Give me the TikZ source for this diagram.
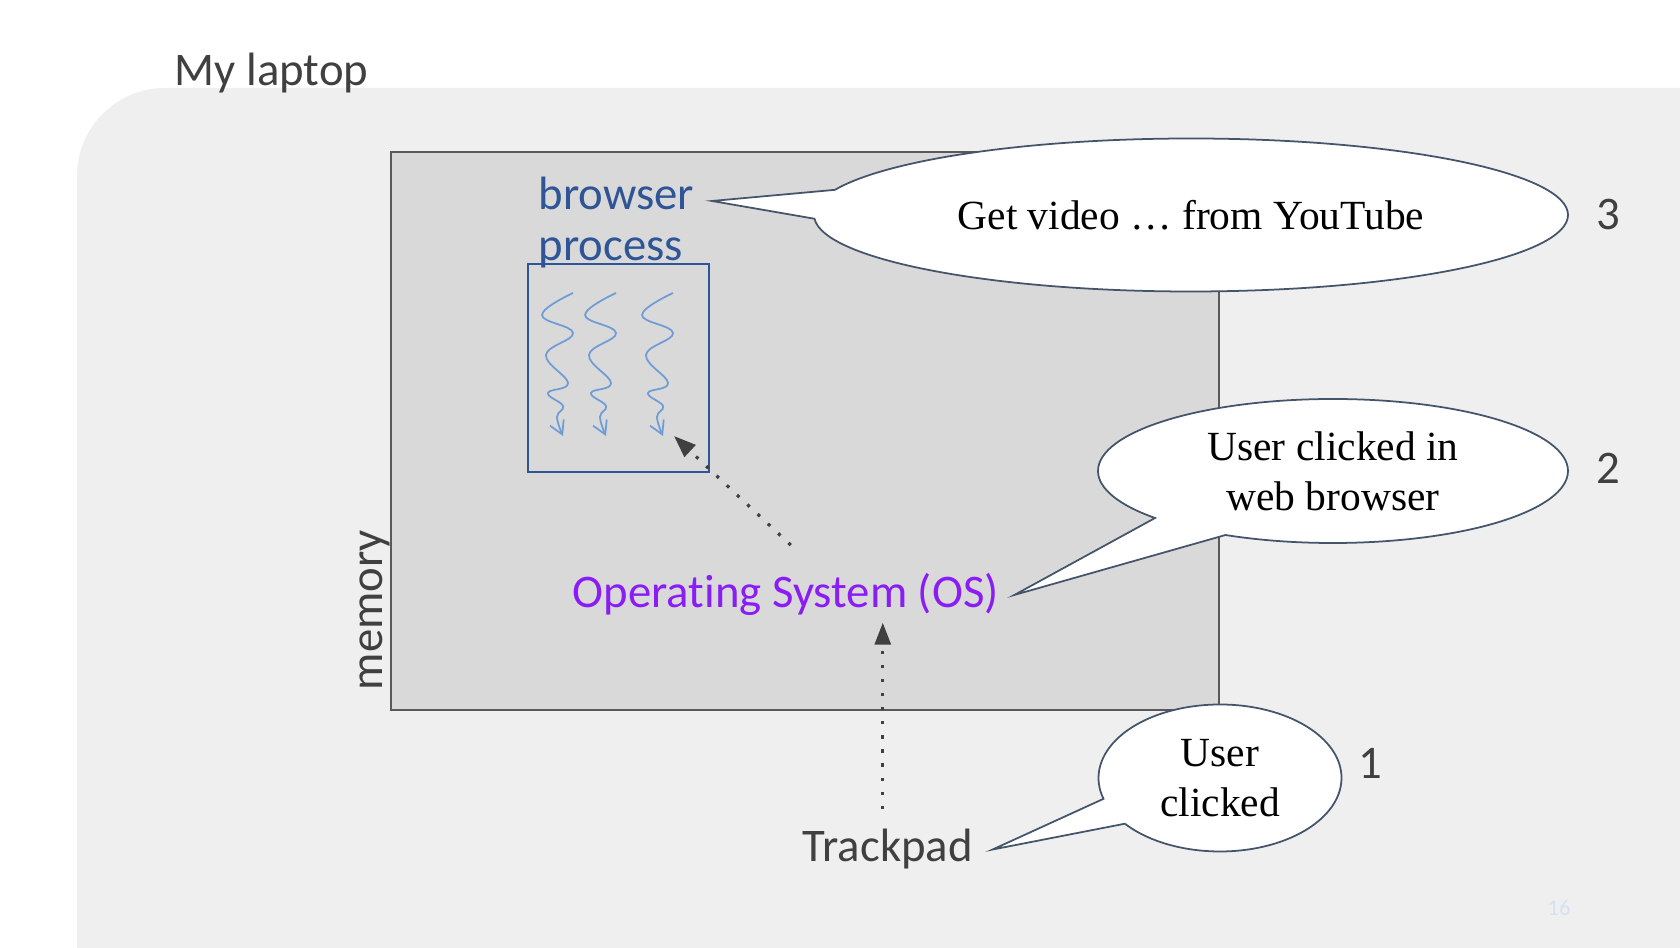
\documentclass[tikz,border=0pt]{standalone}
\usepackage{fontspec}
\setmainfont{Carlito}[Ligatures=NoCommon]
\newfontfamily\bubblefont{Liberation Serif}
\usetikzlibrary{arrows.meta, shapes.callouts, positioning}
\definecolor{slidegray}{RGB}{239,239,239}
\definecolor{memgray}{RGB}{217,217,217}
\definecolor{memedge}{RGB}{89,89,89}
\definecolor{textgray}{RGB}{64,64,64}
\definecolor{procblue}{RGB}{47,85,151}
\definecolor{threadblue}{RGB}{112,156,214}
\definecolor{ospurple}{RGB}{138,28,245}
\definecolor{bubbleedge}{RGB}{68,84,106}
\definecolor{pagenum}{RGB}{214,226,243}

\begin{document}
\begin{tikzpicture}[
          slidetext/.style={
              text=textgray,
              font=\fontsize{13.3}{15.5}\selectfont
            },
          membox/.style={
              draw=memedge,
              fill=memgray,
              line width=0.6pt
            },
          threadbox/.style={
              draw=procblue,
              line width=0.6pt
            },
          thread/.style={threadblue, line width=0.5pt, -{Straight Barb[length=1.3mm, width=1.5mm]}},
          bubble/.style={
              ellipse callout,
              draw=bubbleedge,
              fill=white,
              line width=0.5pt,
              inner sep=0pt,
              callout pointer arc=22,
              align=center,
              font=\bubblefont\fontsize{11.8}{14.2}\selectfont
            },
          dotarr/.style={-{Triangle[length=2.2mm, width=1.6mm]}, textgray, line width=0.9pt, dash pattern=on 0.9pt off 3.1pt}
        ]
        \useasboundingbox (0,0) rectangle (16.8,-9.48);
        \fill[slidegray, rounded corners=0.88cm] (0.77,-0.88) rectangle (18.5,-11.5);

        \node[slidetext, anchor=base west, inner sep=0pt] (laptop) at (1.74,-0.86) {My laptop};

        \node[membox, minimum width=8.28cm, minimum height=5.58cm] (memory) at (8.05,-4.31) {};
        \node[slidetext, rotate=90, anchor=south, inner sep=0pt] (memlabel) at (3.91,-6.10) {memory};

        \node[threadbox, minimum width=1.81cm, minimum height=2.08cm] (threads) at (6.185,-3.68) {};
        \foreach \sx in {5.73, 6.16, 6.73}
          \draw[thread, shift={(\sx,-2.93)}] plot[smooth, tension=0.7] coordinates
            {(0,0) (-0.31,-0.22) (0,-0.40) (-0.27,-0.62) (-0.05,-0.90) (-0.25,-1.00) (-0.10,-1.13) (-0.16,-1.24) (-0.10,-1.43)};

        \node[anchor=north west, inner sep=0pt, align=left, text=procblue,
              font=\fontsize{13.3}{14.5}\selectfont] (browser) at (5.38,-1.76) {browser\\process};
        \coordinate (browsertip) at (7.12,-2.01);

        \node[anchor=base west, inner xsep=1.5mm, inner ysep=0.6mm, text=ospurple,
              font=\fontsize{13.3}{15.5}\selectfont] (os) at (5.57,-6.08) {Operating System (OS)};
        \node[slidetext, anchor=base west, inner xsep=1.9mm, inner ysep=2mm] (trackpad) at (7.83,-8.62) {Trackpad};

        \draw[dotarr] ([xshift=-0.5mm]trackpad.north) -- ([xshift=-0.5mm]trackpad.north |- os.south);
        \draw[dotarr] ([shift={(0.05,0.22)}]os.north) -- ([shift={(-0.36,0.37)}]threads.south east);

        \node[bubble, minimum width=7.54cm, minimum height=1.53cm,
              callout absolute pointer={(browsertip)}] (say3) at (11.91,-2.15) {Get video … from YouTube};
        \node[bubble, minimum width=4.70cm, minimum height=1.44cm,
              callout absolute pointer={(os.east)}] (say2) at (13.33,-4.71) {User clicked in\\web browser};
        \node[bubble, minimum width=2.43cm, minimum height=1.47cm,
              callout absolute pointer={(trackpad.east)}] (say1) at (12.20,-7.78) {User\\clicked};

        \node[slidetext] (num3) at (16.08,-2.15) {3};
        \node[slidetext] (num2) at (16.08,-4.68) {2};
        \node[slidetext] (num1) at (13.70,-7.63) {1};

        \node[text=pagenum, font=\fontsize{6.5}{8}\selectfont] (slideno) at (15.59,-9.08) {16};
      \end{tikzpicture}
\end{document}
